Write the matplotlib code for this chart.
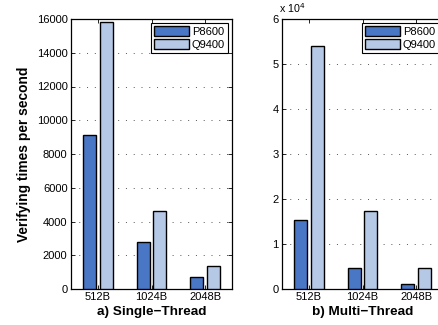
import matplotlib
matplotlib.use("Agg")
import matplotlib.pyplot as plt
from matplotlib.ticker import FuncFormatter
import numpy as np

plt.rcParams['font.family'] = ['Liberation Sans', 'DejaVu Sans']

categories = ['512B', '1024B', '2048B']
series_names = ['P8600', 'Q9400']
single_p8600 = [9100, 2800, 700]
single_q9400 = [15850, 4600, 1350]
multi_p8600 = [15300, 4600, 1200]
multi_q9400 = [54100, 17400, 4700]
single_yticks = [0, 2000, 4000, 6000, 8000, 10000, 12000, 14000, 16000]
multi_yticks = [0, 10000, 20000, 30000, 40000, 50000, 60000]
titles = ['a) Single\u2212Thread', 'b) Multi\u2212Thread']

c_p = '#4a76c6'
c_q = '#b5c9e7'

fig = plt.figure(figsize=(4.38, 3.25), dpi=100)
ax1 = fig.add_axes([71/438, 36/325, 161/438, 270/325])
ax2 = fig.add_axes([282/438, 36/325, 161/438, 270/325])

x = np.arange(1, len(categories) + 1)
w = 0.24
off = 0.155

def draw(ax, pv, qv, yticks, title):
    ax.bar(x - off, pv, w, color=c_p, edgecolor='black', linewidth=1.0, label=series_names[0], zorder=3)
    ax.bar(x + off, qv, w, color=c_q, edgecolor='black', linewidth=1.0, label=series_names[1], zorder=3)
    ax.set_xlim(0.5, 3.5)
    ax.set_ylim(yticks[0], yticks[-1])
    ax.set_yticks(yticks)
    ax.set_xticks(x)
    ax.set_xticklabels(categories)
    ax.tick_params(direction='in', top=True, right=True, labelsize=8, length=3, width=0.6, pad=2.5)
    ax.grid(axis='y', linestyle=(0, (1, 7)), color='#555555', linewidth=0.7, zorder=0)
    for s in ax.spines.values():
        s.set_linewidth(0.9)
    ax.set_xlabel(title, fontsize=9.7, fontweight='bold', labelpad=2.5)
    leg = ax.legend(loc='upper right', fontsize=8, frameon=True, fancybox=False,
                    edgecolor='black', framealpha=1, handlelength=3.15, handleheight=0.95,
                    borderpad=0.3, labelspacing=0.2, handletextpad=0.25,
                    borderaxespad=0.35)
    leg.get_frame().set_linewidth(0.8)

draw(ax1, single_p8600, single_q9400, single_yticks, titles[0])
draw(ax2, multi_p8600, multi_q9400, multi_yticks, titles[1])
ax2.yaxis.set_major_formatter(FuncFormatter(lambda v, p: f'{v/1e4:g}'))
ax2.text(-0.02, 1.015, r'x 10$^{4}$', transform=ax2.transAxes, fontsize=7.7, ha='left', va='bottom')
ax1.set_ylabel('Verifying times per second', fontsize=9.9, fontweight='bold', labelpad=4)

fig.savefig('out.png', dpi=100)
